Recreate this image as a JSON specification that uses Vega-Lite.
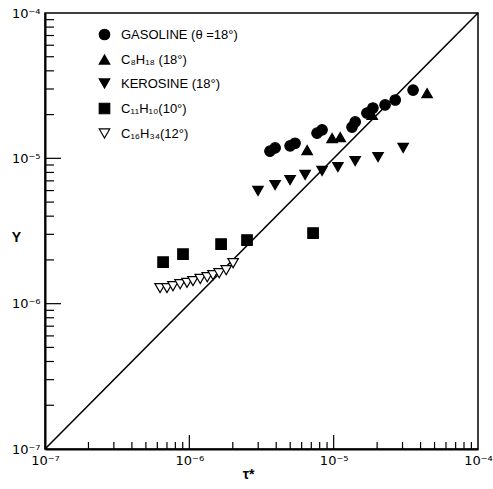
{
  "$schema": "https://vega.github.io/schema/vega-lite/v6.json",
  "width": 433,
  "height": 436,
  "autosize": {"type": "none"},
  "padding": {"left": 45, "top": 13, "right": 15, "bottom": 40},
  "background": "white",
  "config": {
    "view": {"stroke": "black", "strokeWidth": 1.5},
    "font": "Liberation Sans"
  },
  "datasets": {
    "minor": [{"v": 2e-7}, {"v": 3e-7}, {"v": 4e-7}, {"v": 5e-7}, {"v": 6e-7}, {"v": 7e-7}, {"v": 8e-7}, {"v": 9e-7}, {"v": 2e-6}, {"v": 3e-6}, {"v": 4e-6}, {"v": 5e-6}, {"v": 6e-6}, {"v": 7e-6}, {"v": 8e-6}, {"v": 9e-6}, {"v": 2e-5}, {"v": 3e-5}, {"v": 4e-5}, {"v": 5e-5}, {"v": 6e-5}, {"v": 7e-5}, {"v": 8e-5}, {"v": 9e-5}],
    "major": [{"v": 1e-6}, {"v": 1e-5}]
  },
  "layer": [
    {
      "data": {"values": [{"x": 1e-7, "y": 1e-7}, {"x": 1e-4, "y": 1e-4}]},
      "mark": {"type": "line", "color": "black", "strokeWidth": 1.6},
      "encoding": {
        "x": {
          "field": "x", "type": "quantitative",
          "scale": {"type": "log", "domain": [1e-7, 1e-4]},
          "axis": {
            "values": [1e-7, 1e-6, 1e-5, 1e-4],
            "labelExpr": "'10⁻' + substring('⁰¹²³⁴⁵⁶⁷⁸⁹', -round(log(datum.value)/LN10), -round(log(datum.value)/LN10) + 1)",
            "ticks": false,
            "domainColor": "black", "domainWidth": 2,
            "labelPadding": 5, "labelFontSize": 13, "labelColor": "black", "labelFont": "DejaVu Sans",
            "labelFlush": false, "labelOverlap": false, "grid": false,
            "title": "τ*", "titleFontSize": 14, "titleFontWeight": "bold", "titleColor": "black",
            "titleX": 203, "titleY": 25, "titleBaseline": "middle"
          }
        },
        "y": {
          "field": "y", "type": "quantitative",
          "scale": {"type": "log", "domain": [1e-7, 1e-4]},
          "axis": {
            "values": [1e-7, 1e-6, 1e-5, 1e-4],
            "labelExpr": "'10⁻' + substring('⁰¹²³⁴⁵⁶⁷⁸⁹', -round(log(datum.value)/LN10), -round(log(datum.value)/LN10) + 1)",
            "ticks": false,
            "domainColor": "black", "domainWidth": 2,
            "labelPadding": 5, "labelFontSize": 13, "labelColor": "black", "labelFont": "DejaVu Sans",
            "labelFlush": false, "labelOverlap": false, "grid": false,
            "title": "Y", "titleFontSize": 14, "titleFontWeight": "bold", "titleColor": "black",
            "titleAngle": 0, "titleX": -29, "titleY": 224, "titleAlign": "center", "titleBaseline": "middle"
          }
        }
      }
    },
    {
      "data": {"name": "minor"},
      "mark": {"type": "rule", "color": "black", "strokeWidth": 1.2},
      "encoding": {"x": {"field": "v", "type": "quantitative"}, "y": {"datum": 1e-7}, "y2": {"datum": 1.117e-7}}
    },
    {
      "data": {"name": "major"},
      "mark": {"type": "rule", "color": "black", "strokeWidth": 1.2},
      "encoding": {"x": {"field": "v", "type": "quantitative"}, "y": {"datum": 1e-7}, "y2": {"datum": 1.248e-7}}
    },
    {
      "data": {"name": "minor"},
      "mark": {"type": "rule", "color": "black", "strokeWidth": 1.2},
      "encoding": {"y": {"field": "v", "type": "quantitative"}, "x": {"datum": 1e-7}, "x2": {"datum": 1.154e-7}}
    },
    {
      "data": {"name": "major"},
      "mark": {"type": "rule", "color": "black", "strokeWidth": 1.2},
      "encoding": {"y": {"field": "v", "type": "quantitative"}, "x": {"datum": 1e-7}, "x2": {"datum": 1.291e-7}}
    },
    {
      "data": {
        "values": [
          {"series": "GASOLINE (θ =18°)", "x": 3.62e-6, "y": 1.12e-5},
          {"series": "GASOLINE (θ =18°)", "x": 3.93e-6, "y": 1.18e-5},
          {"series": "GASOLINE (θ =18°)", "x": 4.99e-6, "y": 1.22e-5},
          {"series": "GASOLINE (θ =18°)", "x": 5.40e-6, "y": 1.27e-5},
          {"series": "GASOLINE (θ =18°)", "x": 7.67e-6, "y": 1.49e-5},
          {"series": "GASOLINE (θ =18°)", "x": 8.31e-6, "y": 1.57e-5},
          {"series": "GASOLINE (θ =18°)", "x": 1.34e-5, "y": 1.64e-5},
          {"series": "GASOLINE (θ =18°)", "x": 1.41e-5, "y": 1.78e-5},
          {"series": "GASOLINE (θ =18°)", "x": 1.70e-5, "y": 2.05e-5},
          {"series": "GASOLINE (θ =18°)", "x": 1.87e-5, "y": 2.22e-5},
          {"series": "GASOLINE (θ =18°)", "x": 2.27e-5, "y": 2.33e-5},
          {"series": "GASOLINE (θ =18°)", "x": 2.67e-5, "y": 2.52e-5},
          {"series": "GASOLINE (θ =18°)", "x": 3.55e-5, "y": 2.95e-5},
          {"series": "C₈H₁₈ (18°)", "x": 6.55e-6, "y": 1.14e-5},
          {"series": "C₈H₁₈ (18°)", "x": 9.75e-6, "y": 1.38e-5},
          {"series": "C₈H₁₈ (18°)", "x": 1.11e-5, "y": 1.40e-5},
          {"series": "C₈H₁₈ (18°)", "x": 1.85e-5, "y": 1.99e-5},
          {"series": "C₈H₁₈ (18°)", "x": 4.44e-5, "y": 2.81e-5},
          {"series": "KEROSINE (18°)", "x": 2.99e-6, "y": 5.96e-6},
          {"series": "KEROSINE (18°)", "x": 3.93e-6, "y": 6.55e-6},
          {"series": "KEROSINE (18°)", "x": 4.99e-6, "y": 7.09e-6},
          {"series": "KEROSINE (18°)", "x": 6.34e-6, "y": 7.68e-6},
          {"series": "KEROSINE (18°)", "x": 8.31e-6, "y": 8.18e-6},
          {"series": "KEROSINE (18°)", "x": 1.07e-5, "y": 8.71e-6},
          {"series": "KEROSINE (18°)", "x": 1.41e-5, "y": 9.58e-6},
          {"series": "KEROSINE (18°)", "x": 2.03e-5, "y": 1.02e-5},
          {"series": "KEROSINE (18°)", "x": 3.03e-5, "y": 1.18e-5},
          {"series": "C₁₁H₁₀(10°)", "x": 6.58e-7, "y": 1.93e-6},
          {"series": "C₁₁H₁₀(10°)", "x": 9.04e-7, "y": 2.19e-6},
          {"series": "C₁₁H₁₀(10°)", "x": 1.66e-6, "y": 2.57e-6},
          {"series": "C₁₁H₁₀(10°)", "x": 2.51e-6, "y": 2.74e-6},
          {"series": "C₁₁H₁₀(10°)", "x": 7.20e-6, "y": 3.06e-6},
          {"series": "C₁₆H₃₄(12°)", "x": 6.27e-7, "y": 1.28e-6},
          {"series": "C₁₆H₃₄(12°)", "x": 7.00e-7, "y": 1.28e-6},
          {"series": "C₁₆H₃₄(12°)", "x": 7.70e-7, "y": 1.32e-6},
          {"series": "C₁₆H₃₄(12°)", "x": 8.63e-7, "y": 1.36e-6},
          {"series": "C₁₆H₃₄(12°)", "x": 9.64e-7, "y": 1.39e-6},
          {"series": "C₁₆H₃₄(12°)", "x": 1.06e-6, "y": 1.43e-6},
          {"series": "C₁₆H₃₄(12°)", "x": 1.19e-6, "y": 1.48e-6},
          {"series": "C₁₆H₃₄(12°)", "x": 1.33e-6, "y": 1.52e-6},
          {"series": "C₁₆H₃₄(12°)", "x": 1.46e-6, "y": 1.57e-6},
          {"series": "C₁₆H₃₄(12°)", "x": 1.61e-6, "y": 1.62e-6},
          {"series": "C₁₆H₃₄(12°)", "x": 1.80e-6, "y": 1.70e-6},
          {"series": "C₁₆H₃₄(12°)", "x": 2.01e-6, "y": 1.90e-6}
        ]
      },
      "mark": {"type": "point", "stroke": "black", "strokeWidth": 1.2, "opacity": 1, "fillOpacity": 1},
      "encoding": {
        "x": {"field": "x", "type": "quantitative"},
        "y": {"field": "y", "type": "quantitative"},
        "shape": {
          "field": "series", "type": "nominal",
          "scale": {
            "domain": ["GASOLINE (θ =18°)", "C₈H₁₈ (18°)", "KEROSINE (18°)", "C₁₁H₁₀(10°)", "C₁₆H₃₄(12°)"],
            "range": ["circle", "triangle-up", "triangle-down", "square", "triangle-down"]
          },
          "legend": {
            "orient": "none", "legendX": 53, "legendY": 15, "title": null,
            "labelFontSize": 13, "labelColor": "black", "labelFont": "Liberation Sans",
            "labelOffset": 10, "rowPadding": 9, "symbolStrokeColor": "black", "symbolStrokeWidth": 1.2,
            "symbolOpacity": 1, "padding": 0, "labelLimit": 300,
            "encode": {"symbols": {"update": {"stroke": {"value": "black"}, "strokeWidth": {"value": 1.2}}}}
          }
        },
        "fill": {
          "field": "series", "type": "nominal",
          "scale": {
            "domain": ["GASOLINE (θ =18°)", "C₈H₁₈ (18°)", "KEROSINE (18°)", "C₁₁H₁₀(10°)", "C₁₆H₃₄(12°)"],
            "range": ["black", "black", "black", "black", "white"]
          },
          "legend": {
            "orient": "none", "legendX": 53, "legendY": 15, "title": null,
            "labelFontSize": 13, "labelColor": "black", "labelFont": "Liberation Sans",
            "labelOffset": 10, "rowPadding": 9, "symbolStrokeColor": "black", "symbolStrokeWidth": 1.2,
            "symbolOpacity": 1, "padding": 0, "labelLimit": 300,
            "encode": {"symbols": {"update": {"stroke": {"value": "black"}, "strokeWidth": {"value": 1.2}}}}
          }
        },
        "size": {
          "field": "series", "type": "nominal",
          "scale": {
            "domain": ["GASOLINE (θ =18°)", "C₈H₁₈ (18°)", "KEROSINE (18°)", "C₁₁H₁₀(10°)", "C₁₆H₃₄(12°)"],
            "range": [110, 110, 110, 90, 75]
          },
          "legend": {
            "orient": "none", "legendX": 53, "legendY": 15, "title": null,
            "labelFontSize": 13, "labelColor": "black", "labelFont": "Liberation Sans",
            "labelOffset": 10, "rowPadding": 9, "symbolStrokeColor": "black", "symbolStrokeWidth": 1.2,
            "symbolOpacity": 1, "padding": 0, "labelLimit": 300,
            "encode": {"symbols": {"update": {"stroke": {"value": "black"}, "strokeWidth": {"value": 1.2}}}}
          }
        }
      }
    }
  ]
}
